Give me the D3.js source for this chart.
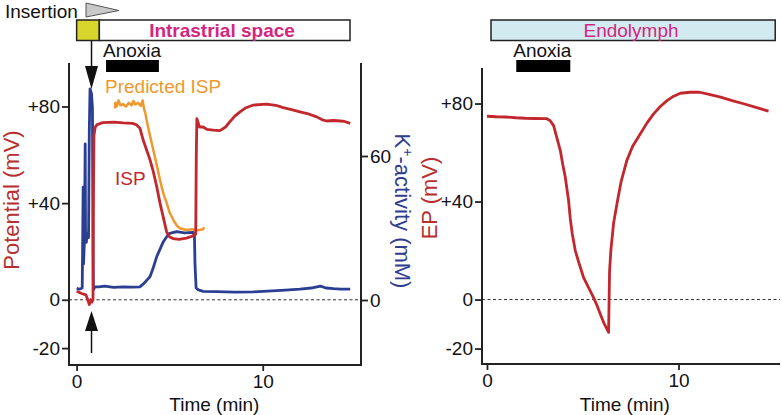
<!DOCTYPE html>
<html><head><meta charset="utf-8">
<script src="https://cdn.jsdelivr.net/npm/d3@7"></script>
<style>
html,body{margin:0;padding:0;background:#fff;}
svg text{font-family:"Liberation Sans",Arial,Helvetica,sans-serif;}
</style></head>
<body>
<svg id="c" width="782" height="415"></svg>
<script>
// ---- data (time in min) ----
const leftYTicks = [-20, 0, 40, 80];
const rightKTicks = [0, 60];
const xTicks = [0, 10];
const epYTicks = [-20, 0, 40, 80];

// Intrastrial potential (ISP), mV
const ispT = [0,0.15,0.3,0.5,0.6,0.68,0.75,0.82,0.88,0.9,0.93,1.0,1.1,1.4,2,2.5,3,3.2,3.4,3.58,3.76,3.94,4.12,4.3,4.48,4.66,4.84,5.0,5.2,5.5,5.9,6.2,6.36,6.4,6.43,6.46,6.52,6.6,6.8,7.0,7.35,7.7,8.0,8.24,8.5,8.78,9.1,9.5,10.2,10.7,11.1,11.6,12,12.5,12.9,13.2,13.44,13.8,14.16,14.4,14.7];
const ispV = [3.5,3,2.5,2,0,-2,0,-1,0,40,68,71.5,72.5,73.3,73.5,73.2,73,72.5,71,66,62,58,53,47,40,34,28,26,25.3,25,25.5,26.3,27,27.2,60,75,73.5,71.5,71.5,70.5,70.2,70,71.5,73.7,76,77.8,79.5,80.6,81,80.5,79.5,78.6,77.8,76.8,75.7,74.5,74,74.2,74,73.8,73];

// Predicted ISP, mV
const predT = [2.06,2.08,2.15,2.25,2.35,2.5,2.65,2.8,2.95,3.05,3.15,3.3,3.45,3.55,3.62,3.7,3.76,3.94,4.12,4.3,4.48,4.66,4.84,5.0,5.2,5.4,5.55,5.9,6.2,6.5,6.8,6.85];
const predV = [79.2,81.5,80,82.5,80.5,81,80,81.5,80.5,82.3,80.8,81.5,80.3,82.5,79,77,74.4,68,62,56,49.6,44,40,36,33,30.5,29.6,28.9,29.2,28.8,29.2,30];

// K+ activity, mM
const kT = [0,0.15,0.3,0.32,0.35,0.37,0.42,0.46,0.48,0.52,0.58,0.64,0.68,0.72,0.8,0.85,0.88,0.9,0.98,1.2,1.5,2,2.5,3,3.4,3.6,3.8,3.94,4.1,4.3,4.5,4.66,4.85,5.0,5.38,5.8,6.27,6.33,6.36,6.42,6.54,6.8,7.5,8.5,9.5,10,11,12,12.6,13.1,13.4,13.8,14.2,14.7];
const kV = [4.9,4.5,5,20,47,15,25,65,25,24,28,26,70,88,86,80,20,4.2,5.5,5.5,5.8,5.3,5.5,5.4,5.5,6.8,8.5,9.7,13,18,21.5,24.3,26.5,27.8,28.5,28,28.2,27,15,5,4.2,3.6,3.5,3.3,3.4,3.6,4,4.5,5,5.8,5,4.7,4.5,4.5];

// Endocochlear potential (EP), mV
const epT = [0,0.5,1,1.5,2,2.5,3.0,3.13,3.3,3.48,3.65,3.83,3.96,4.09,4.26,4.35,4.45,4.61,4.8,5.04,5.3,5.56,5.75,5.91,6.1,6.3,6.35,6.4,6.47,6.61,6.82,7.0,7.3,7.6,8.0,8.35,8.7,9.05,9.4,9.75,10.1,10.6,11.1,11.6,12.2,12.8,13.4,14.0,14.7];
const epV = [74.8,74.6,74.5,74.2,74,73.9,73.8,73.8,73,71,66,60.8,55,49.9,40.4,33,27,20,15,9.1,5,0.9,-2.5,-5.8,-9.5,-12.6,-13.4,11.5,20.2,31.1,40.5,48,56.7,62.5,67.6,72,75.8,78.8,81.2,83,84.2,84.6,84.6,83.7,82.6,81.2,79.9,78.5,76.9];

const anoxiaLeft = [1.58, 4.42];
const anoxiaRight = [1.53, 4.35];

// ---- colours ----
const RED = "#c1272d", BLUE = "#2a3f91", ORANGE = "#f0982c", MAG = "#d4267f";
const TXTRED = "#b5302e", TXTBLUE = "#2e3d8e", AX = "#222";

const svg = d3.select("#c");
const FS = 19;

// ---- scales ----
const xL = d3.scaleLinear().domain([-0.41, 15.28]).range([69, 361]);
const yL = d3.scaleLinear().domain([-27, 98]).range([365, 63]);
const yK = d3.scaleLinear().domain([-27.08, 98.75]).range([365, 63]);
const xR = d3.scaleLinear().domain([-0.26, 15.3]).range([482, 780]);
const yR = d3.scaleLinear().domain([-26.3, 94.5]).range([364, 68]);

const fmt = d => d > 0 ? "+" + d : String(d);

function styleAxis(g){
  g.select(".domain").remove();
  g.selectAll(".tick line").attr("stroke", AX).attr("stroke-width", 1.8);
  g.selectAll(".tick text").attr("font-size", FS).attr("fill", "#111")
    .attr("font-family", '"Liberation Sans",Arial,sans-serif');
}

// ===== LEFT PANEL =====
svg.append("line").attr("x1", xL.range()[0]).attr("x2", xL.range()[1])
  .attr("y1", yL(0)).attr("y2", yL(0))
  .attr("stroke", "#333").attr("stroke-width", 1).attr("stroke-dasharray", "3,2.5");

svg.append("path")
  .attr("d", `M${xL.range()[0]},${yL.range()[1]}V${yL.range()[0]}H${xL.range()[1]}V${yL.range()[1]}`)
  .attr("fill", "none").attr("stroke", AX).attr("stroke-width", 2);

svg.append("g").attr("transform", `translate(${xL.range()[0]},0)`)
  .call(d3.axisLeft(yL).tickValues(leftYTicks).tickFormat(fmt).tickSize(7).tickPadding(2))
  .call(styleAxis);
svg.append("g").attr("transform", `translate(${xL.range()[1]},0)`)
  .call(d3.axisRight(yK).tickValues(rightKTicks).tickFormat(d => String(d)).tickSize(7).tickPadding(2))
  .call(styleAxis);
svg.append("g").attr("transform", `translate(0,${yL.range()[0]})`)
  .call(d3.axisBottom(xL).tickValues(xTicks).tickSize(6).tickPadding(4))
  .call(styleAxis);

const lineL = (ts, vs, y) => d3.line().x((d, i) => xL(ts[i])).y((d, i) => y(vs[i]))(ts);

svg.append("path").attr("d", lineL(kT, kV, yK)).attr("fill", "none")
  .attr("stroke", BLUE).attr("stroke-width", 2.8).attr("stroke-linejoin", "round");
svg.append("path").attr("d", lineL(predT, predV, yL)).attr("fill", "none")
  .attr("stroke", ORANGE).attr("stroke-width", 2.5).attr("stroke-linejoin", "round");
svg.append("path").attr("d", lineL(ispT, ispV, yL)).attr("fill", "none")
  .attr("stroke", RED).attr("stroke-width", 2.8).attr("stroke-linejoin", "round");

svg.append("text").attr("x", 105).attr("y", 93).attr("font-size", FS).attr("fill", ORANGE).text("Predicted ISP");
svg.append("text").attr("x", 115).attr("y", 185).attr("font-size", FS).attr("fill", RED).text("ISP");

svg.append("text").attr("transform", "translate(19,200) rotate(-90)").attr("text-anchor", "middle")
  .attr("font-size", 22).attr("fill", TXTRED).text("Potential (mV)");
const kt = svg.append("text").attr("transform", "translate(395,211) rotate(90)").attr("text-anchor", "middle")
  .attr("font-size", 22).attr("fill", TXTBLUE);
kt.append("tspan").text("K");
kt.append("tspan").attr("dy", -8).attr("font-size", 14).text("+");
kt.append("tspan").attr("dy", 8).text("-activity (mM)");
svg.append("text").attr("x", xL(7.4)).attr("y", 411).attr("text-anchor", "middle")
  .attr("font-size", FS).attr("fill", "#111").text("Time (min)");

svg.append("text").attr("x", 5).attr("y", 18).attr("font-size", FS).attr("fill", "#111").text("Insertion");
svg.append("path").attr("d", "M86,3L119,10.5L86,17Z").attr("fill", "#c9c9c9").attr("stroke", "#555").attr("stroke-width", 1);
svg.append("rect").attr("x", xL(0)).attr("y", 20).attr("width", xL(1.22) - xL(0)).attr("height", 20.5)
  .attr("fill", "#d8d62c").attr("stroke", AX).attr("stroke-width", 1.5);
svg.append("rect").attr("x", xL(1.22)).attr("y", 20).attr("width", 350 - xL(1.22)).attr("height", 20.5)
  .attr("fill", "#fff").attr("stroke", AX).attr("stroke-width", 1.5);
svg.append("text").attr("x", 222).attr("y", 37).attr("text-anchor", "middle").attr("font-size", FS)
  .attr("font-weight", "bold").attr("fill", MAG).text("Intrastrial space");

const ax = xL(0.8);
svg.append("line").attr("x1", ax).attr("x2", ax).attr("y1", 41).attr("y2", 68).attr("stroke", "#111").attr("stroke-width", 1.5);
svg.append("path").attr("d", `M${ax-6.5},66L${ax+6.5},66L${ax},89Z`).attr("fill", "#111");
svg.append("line").attr("x1", ax).attr("x2", ax).attr("y1", 328).attr("y2", 353).attr("stroke", "#111").attr("stroke-width", 1.5);
svg.append("path").attr("d", `M${ax-6.5},331L${ax+6.5},331L${ax},311Z`).attr("fill", "#111");

svg.append("text").attr("x", xL(anoxiaLeft[0]) - 3).attr("y", 57).attr("font-size", FS).attr("fill", "#111").text("Anoxia");
svg.append("rect").attr("x", xL(anoxiaLeft[0])).attr("y", 60)
  .attr("width", xL(anoxiaLeft[1]) - xL(anoxiaLeft[0])).attr("height", 12).attr("fill", "#000");

// ===== RIGHT PANEL =====
svg.append("line").attr("x1", xR.range()[0]).attr("x2", xR.range()[1])
  .attr("y1", yR(0)).attr("y2", yR(0))
  .attr("stroke", "#333").attr("stroke-width", 1).attr("stroke-dasharray", "3,2.5");
svg.append("path")
  .attr("d", `M${xR.range()[0]},${yR.range()[1]}V${yR.range()[0]}H${xR.range()[1]}`)
  .attr("fill", "none").attr("stroke", AX).attr("stroke-width", 2);
svg.append("g").attr("transform", `translate(${xR.range()[0]},0)`)
  .call(d3.axisLeft(yR).tickValues(epYTicks).tickFormat(fmt).tickSize(7).tickPadding(2))
  .call(styleAxis);
svg.append("g").attr("transform", `translate(0,${yR.range()[0]})`)
  .call(d3.axisBottom(xR).tickValues(xTicks).tickSize(6).tickPadding(4))
  .call(styleAxis);

svg.append("path")
  .attr("d", d3.line().x((d, i) => xR(epT[i])).y((d, i) => yR(epV[i]))(epT))
  .attr("fill", "none").attr("stroke", RED).attr("stroke-width", 2.8).attr("stroke-linejoin", "round");

svg.append("text").attr("transform", "translate(437,198) rotate(-90)").attr("text-anchor", "middle")
  .attr("font-size", 22).attr("fill", TXTRED).text("EP (mV)");
svg.append("text").attr("x", xR(7.2)).attr("y", 411).attr("text-anchor", "middle")
  .attr("font-size", FS).attr("fill", "#111").text("Time (min)");

svg.append("rect").attr("x", xR(0.21)).attr("y", 20).attr("width", xR(15.05) - xR(0.21)).attr("height", 20.5)
  .attr("fill", "#d3ebf0").attr("stroke", AX).attr("stroke-width", 1.5);
svg.append("text").attr("x", 631).attr("y", 37).attr("text-anchor", "middle").attr("font-size", FS)
  .attr("fill", MAG).text("Endolymph");

svg.append("text").attr("x", xR(anoxiaRight[0]) - 3).attr("y", 57).attr("font-size", FS).attr("fill", "#111").text("Anoxia");
svg.append("rect").attr("x", xR(anoxiaRight[0])).attr("y", 60)
  .attr("width", xR(anoxiaRight[1]) - xR(anoxiaRight[0])).attr("height", 12).attr("fill", "#000");
</script>
</body></html>
